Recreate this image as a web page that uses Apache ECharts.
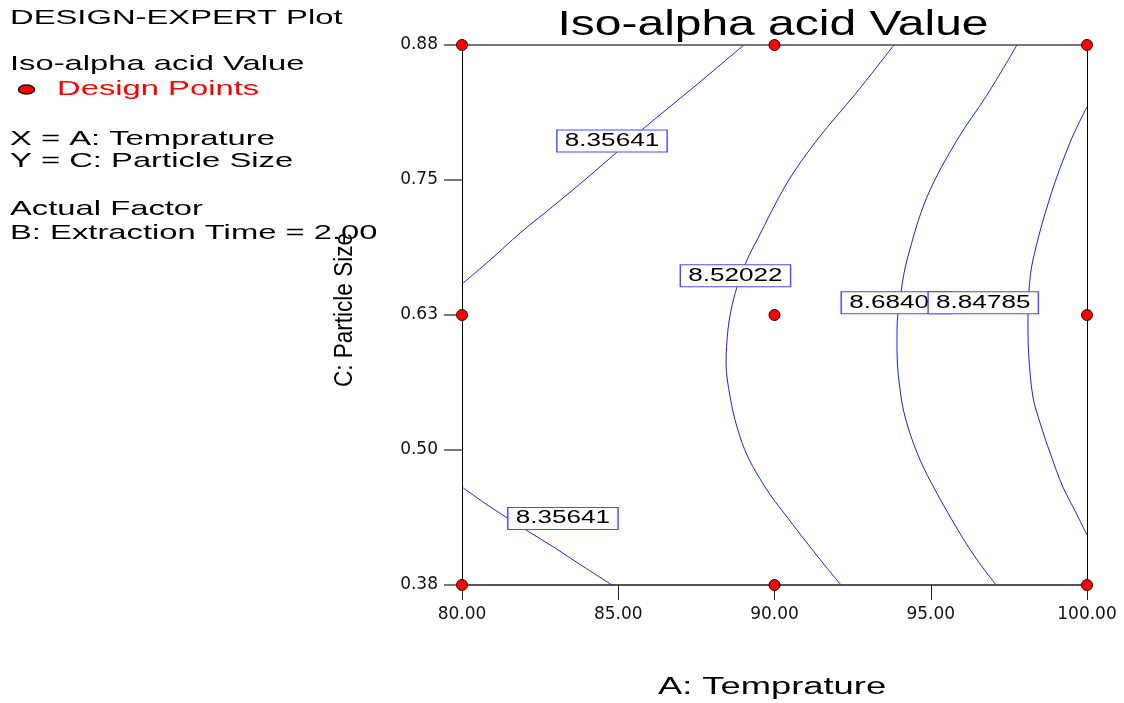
<!DOCTYPE html>
<html>
<head>
<meta charset="utf-8">
<script src="https://cdn.jsdelivr.net/npm/echarts@6/dist/echarts.min.js"></script>
<style>
  html, body { margin: 0; padding: 0; background: #fff; }
  #chart { width: 1124px; height: 703px; }
</style>
</head>
<body>
<div id="chart"></div>
<script>
// ---- axes ----
const xTicks = [80, 85, 90, 95, 100];
const xTickLabels = ['80.00', '85.00', '90.00', '95.00', '100.00'];
const yMin = 0.38, yMax = 0.88, yStep = 0.125;
const yTickLabels = ['0.38', '0.50', '0.63', '0.75', '0.88'];

// ---- design points: [A: Temprature, C: Particle Size] ----
const designPoints = [
  [80, 0.88], [90, 0.88], [100, 0.88],
  [80, 0.63], [90, 0.63], [100, 0.63],
  [80, 0.38], [90, 0.38], [100, 0.38]
];

// ---- contour traces of Iso-alpha acid Value ----
const contour8356Upper = [
  [80.00, 0.6587], [80.90, 0.6809], [81.86, 0.7059], [83.04, 0.7337], [84.00, 0.7569],
  [84.96, 0.7809], [85.79, 0.8022], [87.42, 0.8411], [89.02, 0.8800]
];
const contour8356Lower = [
  [80.00, 0.4707], [80.77, 0.4550], [82.05, 0.4309], [82.98, 0.4143], [83.46, 0.4050],
  [84.80, 0.3800]
];
const contour8520 = [
  [93.82, 0.8800], [92.64, 0.8365], [91.36, 0.7920], [90.40, 0.7522], [89.44, 0.6994],
  [89.12, 0.6809], [88.80, 0.6559], [88.61, 0.6346], [88.51, 0.6161], [88.45, 0.5856],
  [88.58, 0.5541], [88.80, 0.5263], [89.15, 0.4985], [89.76, 0.4680], [90.30, 0.4467],
  [91.42, 0.4050], [92.13, 0.3800]
];
const contour8684 = [
  [97.76, 0.8800], [96.80, 0.8337], [95.84, 0.7920], [94.88, 0.7393], [94.24, 0.6809],
  [94.05, 0.6513], [93.92, 0.6161], [93.92, 0.5976], [94.05, 0.5541], [94.27, 0.5263],
  [94.66, 0.4957], [95.14, 0.4680], [95.87, 0.4309], [96.42, 0.4059], [97.09, 0.3800]
];
const contour8848 = [
  [100.00, 0.8226], [99.49, 0.7920], [98.82, 0.7393], [98.27, 0.6809], [98.14, 0.6513],
  [98.11, 0.6161], [98.14, 0.5911], [98.27, 0.5541], [98.50, 0.5300], [98.82, 0.5022],
  [99.23, 0.4707], [99.62, 0.4485], [100.00, 0.4263]
];

// ---- contour value tags (drawn in this order, later ones on top) ----
const tagText = ['8.35641', '8.52022', '8.68404', '8.84785', '8.35641'];
const tagPos = [[84.80, 0.7911], [88.75, 0.6664], [93.90, 0.6414], [96.68, 0.6414], [83.23, 0.4416]];

// ---- side panel text ----
const panelLines = [
  { text: 'DESIGN-EXPERT Plot', y: 18.5, color: '#000' },
  { text: 'Iso-alpha acid Value', y: 64.5, color: '#000' },
  { text: 'Design Points', y: 89.5, color: '#ff0000', x: 57 },
  { text: 'X = A: Temprature', y: 139.5, color: '#000' },
  { text: 'Y = C: Particle Size', y: 161.5, color: '#000' },
  { text: 'Actual Factor', y: 209.5, color: '#000' },
  { text: 'B: Extraction Time = 2.00', y: 233, color: '#000' }
];

const SANS = '"Liberation Sans", Arial, sans-serif';
const LINE_BLUE = '#1c1cff';

const chart = echarts.init(document.getElementById('chart'));

function contourSeries(data) {
  return {
    type: 'line',
    data: data,
    symbol: 'none',
    smooth: 0.35,
    z: 2,
    silent: true,
    lineStyle: { color: LINE_BLUE, width: 1 }
  };
}

const graphics = [
  {
    type: 'text', x: 773, y: 25, scaleX: 1.37, z: 10,
    style: { text: 'Iso-alpha acid Value', font: '35px ' + SANS, fill: '#000', align: 'center', verticalAlign: 'middle' }
  },
  {
    type: 'ellipse', shape: { cx: 26.5, cy: 89.5, rx: 8, ry: 4.5 }, z: 10,
    style: { fill: '#ff0000', stroke: '#200', lineWidth: 1.5 }
  },
  {
    type: 'text', x: 772, y: 688, scaleX: 1.58, z: 10,
    style: { text: 'A: Temprature', font: '23px ' + SANS, fill: '#000', align: 'center', verticalAlign: 'middle' }
  },
  {
    type: 'text', x: 345, y: 310, rotation: Math.PI / 2, scaleX: 0.9, z: 10,
    style: { text: 'C: Particle Size', font: '25px ' + SANS, fill: '#000', align: 'center', verticalAlign: 'middle' }
  }
];
panelLines.forEach(function (p) {
  graphics.push({
    type: 'text', x: p.x || 10, y: p.y, scaleX: 1.56, z: 10,
    style: { text: p.text, font: '21px ' + SANS, fill: p.color, align: 'left', verticalAlign: 'middle' }
  });
});

chart.setOption({
  animation: false,
  backgroundColor: '#fff',
  grid: { left: 462, top: 45, width: 625, height: 540, containLabel: false },
  xAxis: [
    {
      type: 'value', position: 'bottom', min: 80, max: 100, interval: 5,
      axisLine: { show: true, onZero: false, lineStyle: { color: '#555', width: 2 } },
      axisTick: { show: true, length: 15, lineStyle: { color: '#222', width: 1 } },
      axisLabel: {
        margin: 21, color: '#111', fontFamily: 'DejaVu Sans', fontSize: 17,
        formatter: function (v) { return xTickLabels[xTicks.indexOf(v)]; }
      },
      splitLine: { show: false }
    },
    {
      type: 'value', position: 'top', min: 80, max: 100, interval: 5,
      axisLine: { show: true, onZero: false, lineStyle: { color: '#777', width: 2 } },
      axisTick: { show: false }, axisLabel: { show: false }, splitLine: { show: false }
    }
  ],
  yAxis: [
    {
      type: 'value', position: 'left', min: yMin, max: yMax, interval: yStep,
      axisLine: { show: true, onZero: false, lineStyle: { color: '#000', width: 1 } },
      axisTick: { show: true, length: 18, lineStyle: { color: '#777', width: 2 } },
      axisLabel: {
        margin: 24, color: '#111', fontFamily: 'DejaVu Sans', fontSize: 17,
        formatter: function (v) { return yTickLabels[Math.round((v - yMin) / yStep)]; }
      },
      splitLine: { show: false }
    },
    {
      type: 'value', position: 'right', min: yMin, max: yMax, interval: yStep,
      axisLine: { show: true, onZero: false, lineStyle: { color: '#000', width: 1 } },
      axisTick: { show: false }, axisLabel: { show: false }, splitLine: { show: false }
    }
  ],
  series: [
    contourSeries(contour8356Upper),
    contourSeries(contour8356Lower),
    contourSeries(contour8520),
    contourSeries(contour8684),
    contourSeries(contour8848),
    {
      type: 'custom',
      z: 3,
      silent: true,
      data: tagPos,
      renderItem: function (params, api) {
        const pt = api.coord([api.value(0), api.value(1)]);
        return {
          type: 'text', x: pt[0], y: pt[1], scaleX: 1.45,
          style: {
            text: tagText[params.dataIndex], font: '18px ' + SANS, fill: '#000',
            align: 'center', verticalAlign: 'middle',
            backgroundColor: '#fff', borderColor: '#4a4aff', borderWidth: 1, padding: [2, 5, 1, 5]
          }
        };
      }
    },
    {
      type: 'scatter',
      z: 4,
      clip: false,
      silent: true,
      data: designPoints,
      symbolSize: 11,
      itemStyle: { color: '#ff0000', borderColor: '#300', borderWidth: 1, opacity: 1 }
    }
  ],
  graphic: graphics
});
</script>
</body>
</html>
